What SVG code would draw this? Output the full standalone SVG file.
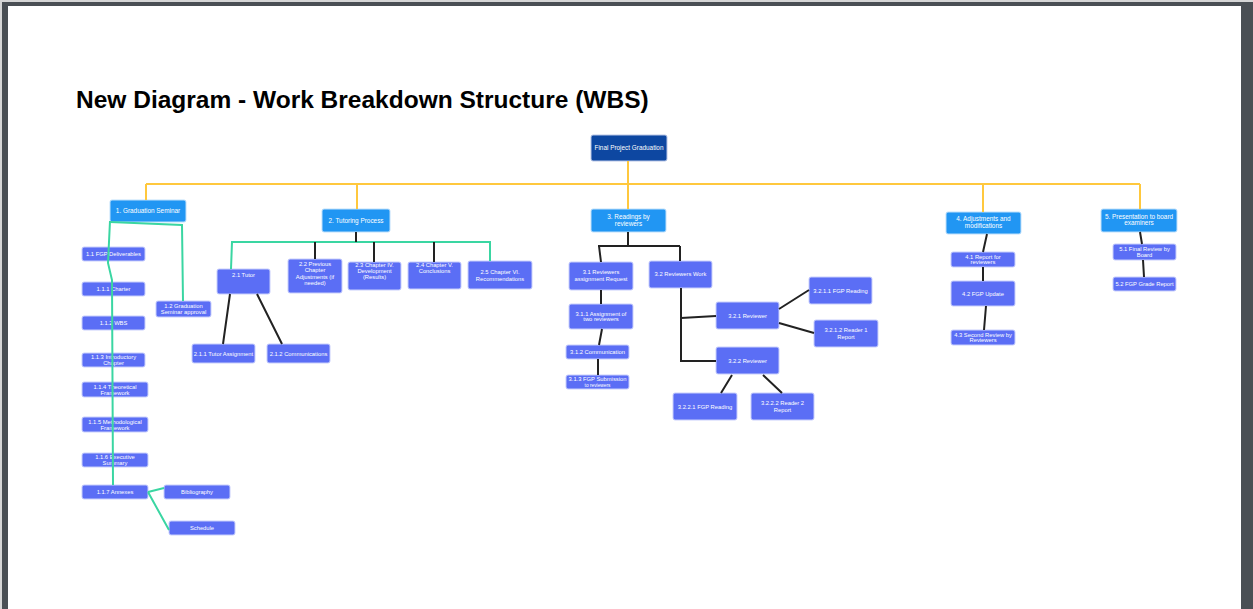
<svg xmlns="http://www.w3.org/2000/svg" width="1253" height="609" viewBox="0 0 1253 609">
  <style>
    .frame { fill: #4a4f54; }
    .page { fill: #ffffff; }
    .title { font-family: "Liberation Sans", Arial, sans-serif; font-weight: bold; font-size: 24.5px; fill: #000; }
    .box-root { fill: #0d47a1; stroke: #b9c6e6; stroke-width: 1; }
    .box-l1 { fill: #2196f3; stroke: #bfe0fb; stroke-width: 1; }
    .box { fill: #5b6ef5; stroke: #c9cffc; stroke-width: 1; }
    text.t { font-family: "Liberation Sans", Arial, sans-serif; fill: #ffffff; text-anchor: middle; font-size: 5.8px; }
    text.t1 { font-family: "Liberation Sans", Arial, sans-serif; fill: #ffffff; text-anchor: middle; font-size: 6.4px; }
    .c-yellow { fill: none; stroke: #ffc83d; stroke-width: 2; }
    .c-green { fill: none; stroke: #3ad6a2; stroke-width: 2; }
    .c-black { fill: none; stroke: #222222; stroke-width: 2; }
  </style>

  <!-- page frame -->
  <rect x="0" y="0" width="1253" height="609" fill="#d6d6d6"/>
  <rect class="frame" x="2" y="2" width="1251" height="607"/>
  <rect class="page" x="8" y="6" width="1233" height="603"/>

  <text class="title" x="76" y="108">New Diagram - Work Breakdown Structure (WBS)</text>

  <!-- nodes -->
  <g id="nodes">
    <g id="root"><rect class="box-root" x="591" y="135" width="76" height="26" rx="2"/><text class="t1" x="629" y="150.3">Final Project Graduation</text></g>

    <g id="n1"><rect class="box-l1" x="110" y="200" width="76" height="22" rx="2"/><text class="t1" x="148" y="213">1. Graduation Seminar</text></g>
    <g id="n2"><rect class="box-l1" x="322" y="209" width="68" height="23" rx="2"/><text class="t1" x="356" y="222.5">2. Tutoring Process</text></g>
    <g id="n3"><rect class="box-l1" x="591" y="209" width="75" height="23" rx="2"/><text class="t1" x="628.5" y="219">3. Readings by</text><text class="t1" x="628.5" y="225.5">reviewers</text></g>
    <g id="n4"><rect class="box-l1" x="946" y="212" width="75" height="22" rx="2"/><text class="t1" x="983.5" y="221">4. Adjustments and</text><text class="t1" x="983.5" y="227.5">modifications</text></g>
    <g id="n5"><rect class="box-l1" x="1101" y="209" width="76" height="23" rx="2"/><text class="t1" x="1139" y="218.5">5. Presentation to board</text><text class="t1" x="1139" y="225">examiners</text></g>

    <g id="n1-1"><rect class="box" x="82" y="247" width="63" height="14" rx="2"/><text class="t" x="113.5" y="256">1.1 FGP Deliverables</text></g>
    <g id="n1-1-1"><rect class="box" x="82" y="282" width="63" height="14" rx="2"/><text class="t" x="113.5" y="291">1.1.1 Charter</text></g>
    <g id="n1-1-2"><rect class="box" x="82" y="316" width="63" height="14" rx="2"/><text class="t" x="113.5" y="325">1.1.2 WBS</text></g>
    <g id="n1-1-3"><rect class="box" x="82" y="353" width="63" height="14" rx="2"/><text class="t" x="113.5" y="359">1.1.3 Introductory</text><text class="t" x="113.5" y="365">Chapter</text></g>
    <g id="n1-1-4"><rect class="box" x="82" y="382" width="66" height="15" rx="2"/><text class="t" x="115" y="388.5">1.1.4 Theoretical</text><text class="t" x="115" y="394.5">Framework</text></g>
    <g id="n1-1-5"><rect class="box" x="82" y="417" width="66" height="15" rx="2"/><text class="t" x="115" y="423.5">1.1.5 Methodological</text><text class="t" x="115" y="429.5">Framework</text></g>
    <g id="n1-1-6"><rect class="box" x="82" y="453" width="66" height="14" rx="2"/><text class="t" x="115" y="459">1.1.6 Executive</text><text class="t" x="115" y="465">Summary</text></g>
    <g id="n1-1-7"><rect class="box" x="82" y="485" width="66" height="14" rx="2"/><text class="t" x="115" y="494">1.1.7 Annexes</text></g>
    <g id="bibliography"><rect class="box" x="164" y="485" width="66" height="14" rx="2"/><text class="t" x="197" y="494">Bibliography</text></g>
    <g id="schedule"><rect class="box" x="169" y="521" width="66" height="14" rx="2"/><text class="t" x="202" y="530">Schedule</text></g>
    <g id="n1-2"><rect class="box" x="156" y="301" width="55" height="16" rx="2"/><text class="t" x="183.5" y="308">1.2 Graduation</text><text class="t" x="183.5" y="314">Seminar approval</text></g>

    <g id="n2-1"><rect class="box" x="217" y="269" width="53" height="25" rx="2"/><text class="t" x="243.5" y="277">2.1 Tutor</text></g>
    <g id="n2-1-1"><rect class="box" x="192" y="344" width="63" height="19" rx="2"/><text class="t" x="223.5" y="355.5">2.1.1 Tutor Assignment</text></g>
    <g id="n2-1-2"><rect class="box" x="267" y="344" width="63" height="19" rx="2"/><text class="t" x="298.5" y="355.5">2.1.2 Communications</text></g>
    <g id="n2-2"><rect class="box" x="288" y="259" width="54" height="34" rx="2"/><text class="t" x="315" y="266">2.2 Previous</text><text class="t" x="315" y="272.3">Chapter</text><text class="t" x="315" y="278.6">Adjustments (if</text><text class="t" x="315" y="284.9">needed)</text></g>
    <g id="n2-3"><rect class="box" x="348" y="262" width="53" height="28" rx="2"/><text class="t" x="374.5" y="267">2.3 Chapter IV.</text><text class="t" x="374.5" y="273.3">Development</text><text class="t" x="374.5" y="279">(Results)</text></g>
    <g id="n2-4"><rect class="box" x="408" y="262" width="53" height="27" rx="2"/><text class="t" x="434.5" y="267">2.4 Chapter V.</text><text class="t" x="434.5" y="273.3">Conclusions</text></g>
    <g id="n2-5"><rect class="box" x="468" y="261" width="64" height="28" rx="2"/><text class="t" x="500" y="273.5">2.5 Chapter VI.</text><text class="t" x="500" y="280.5">Recommendations</text></g>

    <g id="n3-1"><rect class="box" x="569" y="262" width="64" height="28" rx="2"/><text class="t" x="601" y="274">3.1 Reviewers</text><text class="t" x="601" y="281">assignment Request</text></g>
    <g id="n3-2"><rect class="box" x="649" y="261" width="63" height="27" rx="2"/><text class="t" x="680.5" y="276">3.2 Reviewers  Work</text></g>
    <g id="n3-1-1"><rect class="box" x="569" y="304" width="64" height="25" rx="2"/><text class="t" x="601" y="315.5">3.1.1 Assignment of</text><text class="t" x="601" y="320.5">two reviewers</text></g>
    <g id="n3-1-2"><rect class="box" x="566" y="345" width="63" height="14" rx="2"/><text class="t" x="597.5" y="354">3.1.2 Communication</text></g>
    <g id="n3-1-3"><rect class="box" x="566" y="375" width="63" height="14" rx="2"/><text class="t" x="597.5" y="381">3.1.3 FGP Submission</text><text class="t" x="597.5" y="386.5" style="font-size:4.8px">to reviewers</text></g>
    <g id="n3-2-1"><rect class="box" x="716" y="302" width="63" height="27" rx="2"/><text class="t" x="747.5" y="317.5">3.2.1 Reviewer</text></g>
    <g id="n3-2-2"><rect class="box" x="716" y="347" width="63" height="27" rx="2"/><text class="t" x="747.5" y="362.5">3.2.2 Reviewer</text></g>
    <g id="n3-2-1-1"><rect class="box" x="809" y="277" width="63" height="27" rx="2"/><text class="t" x="840.5" y="292.5">3.2.1.1 FGP Reading</text></g>
    <g id="n3-2-1-2"><rect class="box" x="814" y="320" width="64" height="27" rx="2"/><text class="t" x="846" y="332">3.2.1.2  Reader 1</text><text class="t" x="846" y="338.5">Report</text></g>
    <g id="n3-2-2-1"><rect class="box" x="673" y="393" width="64" height="27" rx="2"/><text class="t" x="705" y="408.5">3.2.2.1 FGP Reading</text></g>
    <g id="n3-2-2-2"><rect class="box" x="751" y="393" width="63" height="27" rx="2"/><text class="t" x="782.5" y="405">3.2.2.2 Reader 2</text><text class="t" x="782.5" y="411.5">Report</text></g>

    <g id="n4-1"><rect class="box" x="951" y="252" width="64" height="15" rx="2"/><text class="t" x="983" y="258.5">4.1 Report for</text><text class="t" x="983" y="264.3">reviewers</text></g>
    <g id="n4-2"><rect class="box" x="951" y="281" width="64" height="25" rx="2"/><text class="t" x="983" y="295.5">4.2 FGP Update</text></g>
    <g id="n4-3"><rect class="box" x="951" y="330" width="64" height="15" rx="2"/><text class="t" x="983" y="336.5">4.3 Second Review by</text><text class="t" x="983" y="342.3">Reviewers</text></g>

    <g id="n5-1"><rect class="box" x="1113" y="244" width="63" height="16" rx="2"/><text class="t" x="1144.5" y="251">5.1 Final Review by</text><text class="t" x="1144.5" y="257">Board</text></g>
    <g id="n5-2"><rect class="box" x="1113" y="277" width="63" height="14" rx="2"/><text class="t" x="1144.5" y="286">5.2 FGP Grade Report</text></g>
  </g>

  <!-- connectors -->
  <g id="connectors">
    <path class="c-yellow" d="M628,161 V184 M146,184 H1140 M146,184 V200 M357,184 V209 M628,184 V209 M983,184 V212 M1140,184 V209"/>

    <path class="c-green" d="M110,221 L108,263 L112,280 L113,485"/>
    <path class="c-green" d="M110,222 L182,225 L183,301"/>
    <path class="c-green" d="M148,492 L164,488 M148,492 L169,530"/>
    <path class="c-green" d="M231,269 L232,242 H490 V261"/>

    <path class="c-black" d="M356,232 V242 M315,242 V259 M374,242 V262 M434,242 V262"/>
    <path class="c-black" d="M230,294 L223,344 M257,294 L282,344"/>

    <path class="c-black" d="M628,232 V246 M598,246 H680 M599,246 L601,262 M680,246 V261"/>
    <path class="c-black" d="M601,290 V304 M602,329 L599,345 M598,359 V375"/>
    <path class="c-black" d="M681,288 V361 H716 M681,318 L716,316"/>
    <path class="c-black" d="M779,309 L809,290 M779,323 L814,333"/>
    <path class="c-black" d="M732,375 L721,393 M763,375 L782,393"/>

    <path class="c-black" d="M987,234 L983,252 M983,267 V281 M986,306 L984,330"/>
    <path class="c-black" d="M1140,232 L1142,244 M1143,260 L1144,277"/>
  </g>
</svg>
